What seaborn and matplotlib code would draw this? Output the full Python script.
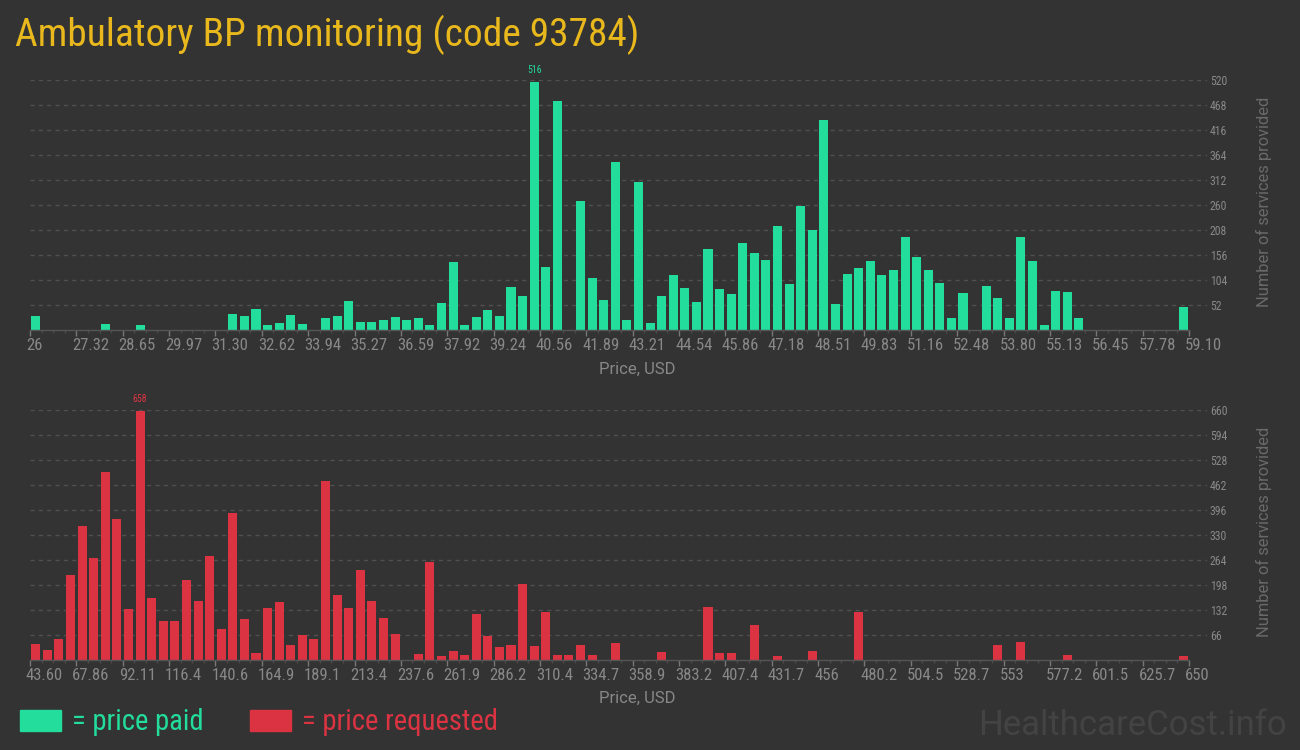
import numpy as np
import pandas as pd
import matplotlib
matplotlib.use("Agg")
import matplotlib.pyplot as plt
import seaborn as sns
from matplotlib.patches import Rectangle
from matplotlib.transforms import ScaledTranslation

# price paid histogram (100 bins from 26 to 59.10)
paid_range = (26.0, 59.10)
paid_counts = [
    29, 0, 0, 0, 0, 0, 12, 0, 0, 10,
    0, 0, 0, 0, 0, 0, 0, 33, 29, 44,
    10, 15, 31, 12, 0, 25, 29, 60, 17, 17,
    21, 27, 21, 25, 10, 56, 141, 10, 27, 42,
    29, 89, 71, 516, 131, 476, 0, 268, 108, 62,
    349, 21, 308, 15, 71, 114, 87, 58, 168, 85,
    75, 181, 160, 146, 216, 96, 258, 208, 437, 54,
    116, 129, 144, 114, 125, 193, 152, 125, 98, 25,
    77, 0, 92, 67, 25, 193, 144, 10, 81, 79,
    25, 0, 0, 0, 0, 0, 0, 0, 0, 48,
]
paid_xticks = ["26", "27.32", "28.65", "29.97", "31.30", "32.62", "33.94", "35.27",
               "36.59", "37.92", "39.24", "40.56", "41.89", "43.21", "44.54", "45.86",
               "47.18", "48.51", "49.83", "51.16", "52.48", "53.80", "55.13", "56.45",
               "57.78", "59.10"]
paid_yticks = [52, 104, 156, 208, 260, 312, 364, 416, 468, 520]

# price requested histogram (100 bins from 43.60 to 650)
req_range = (43.60, 650.0)
req_counts = [
    42, 26, 55, 224, 354, 269, 496, 372, 135, 658,
    164, 103, 103, 211, 156, 275, 82, 388, 108, 18,
    137, 153, 40, 66, 55, 473, 172, 137, 238, 156,
    111, 69, 0, 16, 259, 11, 24, 13, 121, 63,
    34, 40, 201, 37, 127, 13, 13, 40, 13, 0,
    45, 0, 0, 0, 21, 0, 0, 0, 140, 18,
    18, 0, 92, 0, 11, 0, 0, 24, 0, 0,
    0, 127, 0, 0, 0, 0, 0, 0, 0, 0,
    0, 0, 0, 40, 0, 48, 0, 0, 0, 13,
    0, 0, 0, 0, 0, 0, 0, 0, 0, 11,
]
req_xticks = ["43.60", "67.86", "92.11", "116.4", "140.6", "164.9", "189.1", "213.4",
              "237.6", "261.9", "286.2", "310.4", "334.7", "358.9", "383.2", "407.4",
              "431.7", "456", "480.2", "504.5", "528.7", "553", "577.2", "601.5",
              "625.7", "650"]
req_yticks = [66, 132, 198, 264, 330, 396, 462, 528, 594, 660]

BG = "#333333"
GREEN = "#22dd9b"
RED = "#dc3343"
GOLD = "#e8b81c"
COND = ["Roboto Condensed", "Liberation Sans Narrow", "Roboto", "DejaVu Sans"]

sns.set_theme(style="dark")
plt.rcParams["font.family"] = COND
plt.rcParams["axes.facecolor"] = BG
plt.rcParams["figure.facecolor"] = BG

fig = plt.figure(figsize=(13, 7.5), dpi=100)
W, H = 1300, 750


def hist_panel(top_px, counts, rng, xlabels, yticks, color):
    # axes spans px 30..1207 horizontally; data range ends at px 1189
    ax = fig.add_axes([30 / W, 1 - (top_px + 250) / H, 1177 / W, 250 / H])
    lo, hi = rng
    edges = np.linspace(lo, hi, len(counts) + 1)
    centers = (edges[:-1] + edges[1:]) / 2
    df = pd.DataFrame({"price": centers, "n": counts})
    sns.histplot(data=df, x="price", weights="n", bins=len(counts), binrange=rng,
                 shrink=0.78, color=color, alpha=1, linewidth=0, ax=ax)
    right = hi + 18 * (hi - lo) / 1159
    ax.set_xlim(lo, right)
    ax.set_ylim(0, yticks[-1])
    ax.set_xlabel("")
    ax.set_ylabel("")

    for s in ["top", "left", "right"]:
        ax.spines[s].set_visible(False)
    ax.spines["bottom"].set_color("#555555")
    ax.spines["bottom"].set_linewidth(1)
    ax.spines["bottom"].set_bounds(lo, hi)

    ax.set_xticks(np.linspace(lo, hi, len(xlabels)))
    ax.set_xticklabels(xlabels)
    ax.set_xticks(edges, minor=True)
    ax.tick_params(axis="x", which="major", length=4, width=1, color="#777777",
                   labelcolor="#888888", labelsize=12, pad=2, bottom=True)
    ax.tick_params(axis="x", which="minor", length=2, width=1, color="#4a4a4a", bottom=True)
    shift = ScaledTranslation(-4 / 100, 0, fig.dpi_scale_trans)
    for lab in ax.get_xticklabels():
        lab.set_ha("left")
        lab.set_transform(lab.get_transform() + shift)

    ax.yaxis.tick_right()
    ax.set_yticks(yticks)
    ax.set_yticklabels([str(v) for v in yticks])
    ax.tick_params(axis="y", length=0, labelcolor="#888888", labelsize=8.5, pad=2)
    ax.grid(axis="y", color="#505050", linestyle=(0, (3, 3)), linewidth=1)
    ax.grid(axis="x", visible=False)

    i = int(np.argmax(counts))
    ax.annotate(str(counts[i]), (centers[i], counts[i]), xytext=(0, 5),
                textcoords="offset points", ha="center", va="bottom",
                color=color, fontsize=7)
    return ax


hist_panel(80, paid_counts, paid_range, paid_xticks, paid_yticks, GREEN)
hist_panel(410, req_counts, req_range, req_xticks, req_yticks, RED)

fig.text(15 / W, 1 - 46 / H, "Ambulatory BP monitoring (code 93784)", color=GOLD,
         fontsize=28.4, va="baseline", ha="left")

for yc in (202, 532):
    fig.text(1264 / W, 1 - yc / H, "Number of services provided", rotation=90,
             color="#6a6a6a", fontsize=11.8, ha="center", va="center",
             family=["Roboto", "DejaVu Sans"])
for yc in (369, 698):
    fig.text(637 / W, 1 - yc / H, "Price, USD", color="#888888", fontsize=12,
             ha="center", va="center", family=["Roboto", "DejaVu Sans"])

# legend
fig.patches.append(Rectangle((20 / W, 1 - 731 / H), 41 / W, 21 / H, color=GREEN,
                             transform=fig.transFigure))
fig.text(72 / W, 1 - 730 / H, "= price paid", color=GREEN, fontsize=20.6, va="baseline")
fig.patches.append(Rectangle((250 / W, 1 - 731 / H), 41 / W, 21 / H, color=RED,
                             transform=fig.transFigure))
fig.text(302 / W, 1 - 730 / H, "= price requested", color=RED, fontsize=20.6,
         va="baseline")

fig.text(1287 / W, 1 - 735 / H, "HealthcareCost.info", color="#434343", fontsize=25,
         ha="right", va="baseline", family=["Roboto", "DejaVu Sans"])

plt.savefig("out.png", dpi=100, facecolor=BG)
